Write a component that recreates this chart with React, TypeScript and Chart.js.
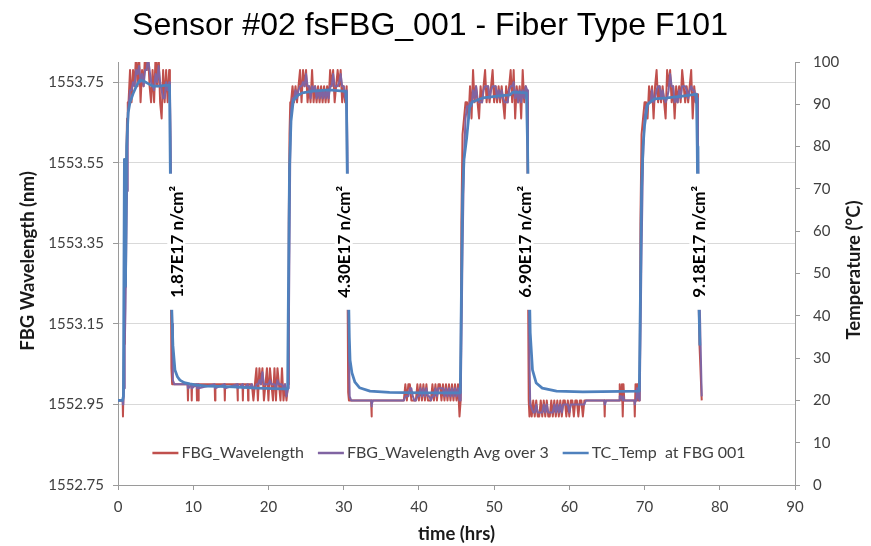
import React, { useEffect, useRef } from "react";
import { Chart, registerables } from "chart.js";

Chart.register(...registerables);

// ---------- texts ----------
const chartTitle = "Sensor #02 fsFBG_001 - Fiber Type F101";
const xAxisTitle = "time (hrs)";
const leftAxisTitle = "FBG Wavelength (nm)";
const rightAxisTitle = "Temperature (°C)";
const seriesNames = ["FBG_Wavelength", "FBG_Wavelength Avg over 3", "TC_Temp  at FBG 001"];
const seriesColors = ["#C0504D", "#8064A2", "#4F81BD"];

// ---------- ticks ----------
const timeTicks = [0, 10, 20, 30, 40, 50, 60, 70, 80, 90];
const wavelengthTicks = [1552.75, 1552.95, 1553.15, 1553.35, 1553.55, 1553.75];
const temperatureTicks = [0, 10, 20, 30, 40, 50, 60, 70, 80, 90, 100];

// ---------- fluence annotations ----------
const fluenceLabels = ["1.87E17 n/cm²", "4.30E17 n/cm²", "6.90E17 n/cm²", "9.18E17 n/cm²"];
const fluenceTimeHrs = [7.75, 30.0, 54.05, 77.15];
const fluenceLabelTemp = 57.5;

// ---------- TC_Temp (°C) ----------
const tempTimeHrs = [
  0, 0.6, 0.72, 0.85, 1.0, 1.15, 1.35, 1.6, 2.0, 2.5, 2.9, 3.4, 3.9, 4.6, 5.5, 6.3, 6.85,
  6.95, 7.05, 7.15, 7.3, 7.57, 7.9, 8.23, 8.8, 9.56, 10.5, 11.8, 13.5, 15.3, 18.5, 21.9, 22.55,
  22.65, 22.8, 23.0, 23.3, 23.8, 24.5, 25.9, 28.1, 29.9, 30.35,
  30.5, 30.6, 30.75, 30.85, 31.1, 31.5, 32.1, 33.5, 36.1, 40.5, 45.5,
  45.65, 45.8, 46.0, 46.35, 46.75, 47.15, 48.5, 50.7, 52.1, 52.5, 54.3,
  54.45, 54.6, 54.8, 55.1, 55.6, 56.4, 58.3, 61.8, 69.3,
  69.45, 69.6, 69.8, 70.0, 70.4, 71.3, 73.0, 75.3, 76.9,
  77.0, 77.1, 77.2, 77.35,
];
const tempValues = [
  20, 20, 21, 77, 47, 80, 88, 90.5, 92.5, 94.5, 95.7, 95.5, 95, 94.3, 94.3, 94.5, 94.5,
  75, 55, 41, 33, 27.2, 25.6, 24.8, 24.2, 23.9, 23.6, 23.4, 23.3, 23.2, 22.9, 22.7, 22.7,
  45, 75, 86, 90.8, 92.0, 92.7, 93.1, 93.4, 93.1, 93,
  70, 50, 35, 29.5, 26.5, 24.3, 23.0, 22.2, 21.9, 21.8, 21.8,
  45, 68, 77, 82, 89.4, 90.6, 91.5, 92, 92.2, 92.9, 92.7,
  80, 55, 36, 27.2, 24.1, 22.9, 22.2, 22.0, 22.2,
  45, 70, 80, 85, 90, 91.3, 91.5, 92, 92.4,
  80, 60, 45, 33,
];

// ---------- FBG wavelength (nm): sparse stretches (transitions, isolated spikes) ----------
const fbgEdgeTime = [
  0, 0.5, 0.62, 0.66, 0.7, 0.8, 0.9, 1.0, 1.1, 1.2, 1.3,
  6.9, 7.0, 7.1, 7.2, 7.3, 7.5,
  9.25, 9.3, 9.35, 9.75, 9.8, 9.85, 10.45, 10.5, 10.55, 10.65, 10.7, 10.75, 12.85, 12.9, 12.95,
  14.15, 14.2, 14.25, 15.85, 15.9, 15.95, 16.55, 16.6, 16.65, 17.25, 17.3, 17.35, 17.8,
  22.6, 22.7, 22.8, 22.9,
  30.5, 30.6, 30.7, 30.8, 31.0, 33.65, 33.7, 33.75, 33.9, 37.8,
  45.55, 45.65, 45.8, 46.0, 46.2,
  54.4, 54.5, 54.6, 54.7, 54.8,
  62.6, 64.65, 64.7, 64.75, 64.9, 66.65, 66.7, 66.9, 67.0, 67.1, 67.2, 67.3,
  68.65, 68.7, 68.8, 68.9, 69.0, 69.1, 69.35, 69.45, 69.6, 69.8, 70.0,
  77.0, 77.1, 77.2, 77.3, 77.6,
];
const fbgEdgeWavelength = [
  1552.96, 1552.96, 1552.96, 1552.92, 1552.96, 1553.10, 1553.24, 1553.24, 1553.55, 1553.66, 1553.70,
  1553.74, 1553.40, 1553.04, 1553.00, 1553.00, 1553.00,
  1553.00, 1552.96, 1553.00, 1553.00, 1552.96, 1553.00, 1553.00, 1552.96, 1553.00, 1553.00, 1552.96, 1553.00, 1553.00, 1552.96, 1553.00,
  1553.00, 1552.96, 1553.00, 1553.00, 1552.96, 1553.00, 1553.00, 1552.96, 1553.00, 1553.00, 1552.96, 1553.00, 1553.00,
  1553.00, 1553.40, 1553.62, 1553.70,
  1553.30, 1552.98, 1552.96, 1552.96, 1552.96, 1552.96, 1552.92, 1552.96, 1552.96, 1552.96,
  1552.96, 1553.40, 1553.62, 1553.66, 1553.70,
  1553.70, 1553.30, 1552.96, 1552.92, 1552.96,
  1552.96, 1552.96, 1552.92, 1552.96, 1552.96, 1552.96, 1553.00, 1552.96, 1553.00, 1552.92, 1553.00, 1552.96,
  1552.96, 1552.92, 1553.00, 1552.96, 1553.00, 1552.96, 1552.96, 1553.40, 1553.62, 1553.66, 1553.70,
  1553.72, 1553.40, 1553.20, 1553.10, 1552.96,
];
const fbgEdgeAvg = [
  1552.96, 1552.96, 1552.96, 1552.95, 1552.95, 1552.99, 1553.10, 1553.19, 1553.34, 1553.48, 1553.64,
  1553.74, 1553.61, 1553.39, 1553.15, 1553.01, 1553.00,
  1553.00, 1552.99, 1552.99, 1553.00, 1552.99, 1552.99, 1553.00, 1552.99, 1552.99, 1553.00, 1552.99, 1552.99, 1553.00, 1552.99, 1552.99,
  1553.00, 1552.99, 1552.99, 1553.00, 1552.99, 1552.99, 1553.00, 1552.99, 1552.99, 1553.00, 1552.99, 1552.99, 1553.00,
  1552.99, 1553.12, 1553.34, 1553.57,
  1553.59, 1553.34, 1553.08, 1552.97, 1552.96, 1552.96, 1552.945, 1552.95, 1552.96, 1552.96,
  1552.96, 1553.09, 1553.33, 1553.56, 1553.66,
  1553.73, 1553.58, 1553.32, 1553.06, 1552.95,
  1552.96, 1552.96, 1552.95, 1552.95, 1552.96, 1552.96, 1552.97, 1552.97, 1552.97, 1552.96, 1552.97, 1552.96,
  1552.96, 1552.95, 1552.96, 1552.96, 1552.99, 1552.97, 1552.96, 1553.10, 1553.33, 1553.56, 1553.66,
  1553.71, 1553.61, 1553.44, 1553.23, 1552.97,
];

// ---------- FBG wavelength (nm): noisy stretches, one sample every 0.2 h from the start time ----------
const noisyStepHrs = 0.2;

const plateau1Start = 1.4;
const plateau1Wavelength = [
  1553.70, 1553.78, 1553.70, 1553.78, 1553.74, 1553.82, 1553.74, 1553.82, 1553.70, 1553.78,
  1553.74, 1553.82, 1553.78, 1553.82, 1553.74, 1553.70, 1553.78, 1553.70, 1553.82, 1553.74,
  1553.82, 1553.70, 1553.66, 1553.78, 1553.70, 1553.78, 1553.70, 1553.78,
];
const plateau1Avg = [
  1553.69, 1553.73, 1553.73, 1553.75, 1553.74, 1553.78, 1553.77, 1553.79, 1553.75, 1553.77,
  1553.74, 1553.78, 1553.78, 1553.81, 1553.78, 1553.75, 1553.74, 1553.73, 1553.77, 1553.75,
  1553.79, 1553.75, 1553.73, 1553.71, 1553.71, 1553.75, 1553.73, 1553.75,
];

const bottom1Start = 18.0;
const bottom1Wavelength = [
  1552.96, 1553.00, 1553.04, 1552.96, 1553.04, 1553.00, 1553.04, 1552.96, 1553.00, 1553.04,
  1552.96, 1553.04, 1553.00, 1552.96, 1553.04, 1552.96, 1553.04, 1553.00, 1552.96, 1553.04,
  1552.96, 1553.00, 1552.96,
];
const bottom1Avg = [
  1552.99, 1552.99, 1553.00, 1553.00, 1553.01, 1553.00, 1553.03, 1553.00, 1553.00, 1553.00,
  1553.00, 1553.01, 1553.00, 1553.00, 1553.00, 1552.99, 1553.01, 1553.00, 1553.00, 1553.00,
  1552.99, 1553.00, 1552.97,
];

const plateau2Start = 23.0;
const plateau2Wavelength = [
  1553.70, 1553.74, 1553.70, 1553.74, 1553.70, 1553.74, 1553.78, 1553.70, 1553.78, 1553.74,
  1553.78, 1553.70, 1553.74, 1553.70, 1553.78, 1553.70, 1553.74, 1553.70, 1553.74, 1553.70,
  1553.74, 1553.70, 1553.74, 1553.70, 1553.74, 1553.70, 1553.78, 1553.74, 1553.78, 1553.70,
  1553.74, 1553.78, 1553.74, 1553.78, 1553.70, 1553.74, 1553.70, 1553.74,
];
const plateau2Avg = [
  1553.68, 1553.71, 1553.71, 1553.73, 1553.71, 1553.73, 1553.74, 1553.74, 1553.75, 1553.74,
  1553.77, 1553.74, 1553.74, 1553.71, 1553.74, 1553.73, 1553.74, 1553.71, 1553.73, 1553.71,
  1553.73, 1553.71, 1553.73, 1553.71, 1553.73, 1553.71, 1553.74, 1553.74, 1553.77, 1553.74,
  1553.74, 1553.74, 1553.75, 1553.77, 1553.74, 1553.74, 1553.71, 1553.73,
];

const bottom2Start = 38.0;
const bottom2Wavelength = [
  1552.96, 1553.00, 1552.96, 1553.00, 1553.00, 1552.96, 1552.96, 1552.96, 1552.96, 1553.00,
  1552.96, 1553.00, 1552.96, 1553.00, 1552.96, 1553.00, 1552.96, 1552.96, 1552.96, 1553.00,
  1552.96, 1553.00, 1552.96, 1553.00, 1553.00, 1552.96, 1553.00, 1552.96, 1553.00, 1552.96,
  1553.00, 1552.96, 1553.00, 1552.96, 1553.00, 1552.96, 1553.00, 1552.92,
];
const bottom2Avg = [
  1552.96, 1552.97, 1552.97, 1552.97, 1552.99, 1552.99, 1552.97, 1552.96, 1552.96, 1552.97,
  1552.97, 1552.99, 1552.97, 1552.99, 1552.97, 1552.99, 1552.97, 1552.97, 1552.96, 1552.97,
  1552.97, 1552.99, 1552.97, 1552.99, 1552.99, 1552.99, 1552.99, 1552.97, 1552.99, 1552.97,
  1552.99, 1552.97, 1552.99, 1552.97, 1552.99, 1552.97, 1552.99, 1552.96,
];

const plateau3Start = 46.4;
const plateau3Wavelength = [
  1553.70, 1553.66, 1553.74, 1553.66, 1553.78, 1553.70, 1553.74, 1553.70, 1553.66, 1553.74,
  1553.70, 1553.74, 1553.78, 1553.70, 1553.74, 1553.70, 1553.74, 1553.78, 1553.70, 1553.74,
  1553.70, 1553.74, 1553.70, 1553.74, 1553.70, 1553.66, 1553.74, 1553.70, 1553.74, 1553.78,
  1553.70, 1553.78, 1553.66, 1553.74, 1553.70, 1553.74, 1553.66, 1553.78, 1553.70, 1553.74,
];
const plateau3Avg = [
  1553.69, 1553.69, 1553.70, 1553.69, 1553.73, 1553.71, 1553.74, 1553.71, 1553.70, 1553.70,
  1553.70, 1553.73, 1553.74, 1553.74, 1553.74, 1553.71, 1553.73, 1553.74, 1553.74, 1553.74,
  1553.71, 1553.73, 1553.71, 1553.73, 1553.71, 1553.70, 1553.70, 1553.70, 1553.73, 1553.74,
  1553.74, 1553.75, 1553.71, 1553.73, 1553.70, 1553.73, 1553.70, 1553.73, 1553.71, 1553.74,
];

const bottom3Start = 55.0;
const bottom3Wavelength = [
  1552.92, 1552.96, 1552.92, 1552.96, 1552.92, 1552.92, 1552.96, 1552.92, 1552.96, 1552.92,
  1552.96, 1552.92, 1552.92, 1552.96, 1552.92, 1552.96, 1552.92, 1552.96, 1552.92, 1552.96,
  1552.92, 1552.96, 1552.96, 1552.92, 1552.96, 1552.92, 1552.96, 1552.96, 1552.92, 1552.96,
  1552.96, 1552.92, 1552.96, 1552.96, 1552.92, 1552.96, 1552.96,
];
const bottom3Avg = [
  1552.94, 1552.93, 1552.93, 1552.95, 1552.93, 1552.93, 1552.93, 1552.93, 1552.95, 1552.93,
  1552.95, 1552.93, 1552.93, 1552.93, 1552.93, 1552.95, 1552.93, 1552.95, 1552.93, 1552.95,
  1552.93, 1552.95, 1552.95, 1552.95, 1552.95, 1552.93, 1552.95, 1552.95, 1552.95, 1552.95,
  1552.95, 1552.95, 1552.95, 1552.95, 1552.95, 1552.95, 1552.96,
];

const plateau4Start = 70.2;
const plateau4Wavelength = [
  1553.70, 1553.66, 1553.74, 1553.70, 1553.74, 1553.66, 1553.74, 1553.78, 1553.70, 1553.74,
  1553.70, 1553.74, 1553.70, 1553.66, 1553.78, 1553.74, 1553.78, 1553.70, 1553.74, 1553.66,
  1553.74, 1553.70, 1553.74, 1553.70, 1553.78, 1553.74, 1553.70, 1553.74, 1553.70, 1553.74,
  1553.78, 1553.66, 1553.74, 1553.70,
];
const plateau4Avg = [
  1553.69, 1553.69, 1553.70, 1553.70, 1553.73, 1553.70, 1553.71, 1553.73, 1553.74, 1553.74,
  1553.71, 1553.73, 1553.71, 1553.70, 1553.71, 1553.73, 1553.77, 1553.74, 1553.74, 1553.70,
  1553.71, 1553.70, 1553.73, 1553.71, 1553.74, 1553.74, 1553.74, 1553.73, 1553.71, 1553.73,
  1553.74, 1553.73, 1553.73, 1553.70,
];

const noisyStarts = [plateau1Start, bottom1Start, plateau2Start, bottom2Start, plateau3Start, bottom3Start, plateau4Start];
const noisyWavelength = [plateau1Wavelength, bottom1Wavelength, plateau2Wavelength, bottom2Wavelength, plateau3Wavelength, bottom3Wavelength, plateau4Wavelength];
const noisyAvg = [plateau1Avg, bottom1Avg, plateau2Avg, bottom2Avg, plateau3Avg, bottom3Avg, plateau4Avg];

type Pt = { x: number; y: number };

function buildFbg(): { wl: Pt[]; avg: Pt[] } {
  const wl: Pt[] = [];
  const avg: Pt[] = [];
  const n = Math.min(fbgEdgeTime.length, fbgEdgeWavelength.length, fbgEdgeAvg.length);
  for (let i = 0; i < n; i++) {
    wl.push({ x: fbgEdgeTime[i], y: fbgEdgeWavelength[i] });
    avg.push({ x: fbgEdgeTime[i], y: fbgEdgeAvg[i] });
  }
  noisyStarts.forEach((start, k) => {
    const m = Math.min(noisyWavelength[k].length, noisyAvg[k].length);
    for (let i = 0; i < m; i++) {
      const t = Math.round((start + i * noisyStepHrs) * 100) / 100;
      wl.push({ x: t, y: noisyWavelength[k][i] });
      avg.push({ x: t, y: noisyAvg[k][i] });
    }
  });
  wl.sort((a, b) => a.x - b.x);
  avg.sort((a, b) => a.x - b.x);
  return { wl, avg };
}

function buildTemp(): Pt[] {
  const n = Math.min(tempTimeHrs.length, tempValues.length);
  const pts: Pt[] = [];
  for (let i = 0; i < n; i++) pts.push({ x: tempTimeHrs[i], y: tempValues[i] });
  return pts;
}

const AXIS_COLOR = "#9a9a9a";
const GRID_COLOR = "#d9d9d9";
const LABEL_COLOR = "#404040";
const TICK_FONT = { family: "Lato", size: 15 };

const decorPlugin = {
  id: "decor",
  afterDatasetsDraw(chart: any) {
    const { ctx, scales } = chart;
    ctx.save();
    ctx.font = "bold 17px Lato";
    fluenceLabels.forEach((text, i) => {
      const cx = scales.x.getPixelForValue(fluenceTimeHrs[i]);
      const cy = scales.yTemp.getPixelForValue(fluenceLabelTemp);
      const w = ctx.measureText(text).width;
      ctx.save();
      ctx.translate(cx, cy);
      ctx.rotate(-Math.PI / 2);
      ctx.fillStyle = "#ffffff";
      ctx.fillRect(-w / 2 - 12, -9, w + 24, 18);
      ctx.fillStyle = "#000000";
      ctx.textAlign = "center";
      ctx.textBaseline = "middle";
      ctx.fillText(text, 0, 1);
      ctx.restore();
    });
    ctx.restore();
  },
  afterDraw(chart: any) {
    const { ctx, chartArea } = chart;
    ctx.save();
    // title
    ctx.fillStyle = "#000000";
    ctx.font = "32px 'Liberation Sans', Arial, sans-serif";
    ctx.textAlign = "center";
    ctx.textBaseline = "alphabetic";
    ctx.fillText(chartTitle, 430, 35);

    // axis titles
    ctx.fillStyle = "#1a1a1a";
    ctx.font = "bold 18.5px Lato";
    ctx.textBaseline = "middle";
    ctx.fillText(xAxisTitle, (chartArea.left + chartArea.right) / 2, 534);

    ctx.save();
    ctx.translate(28, 261);
    ctx.rotate(-Math.PI / 2);
    ctx.fillText(leftAxisTitle, 0, 0);
    ctx.restore();

    ctx.save();
    ctx.translate(854, 270);
    ctx.rotate(-Math.PI / 2);
    ctx.fillText(rightAxisTitle, 0, 0);
    ctx.restore();

    // legend (inside plot area)
    ctx.font = "16px Lato";
    ctx.textAlign = "left";
    const keyLen = 26;
    const keyGap = 3;
    const itemGap = 14;
    const widths = seriesNames.map((s) => ctx.measureText(s).width);
    const total = widths.reduce((a, w) => a + keyLen + keyGap + w, 0) + itemGap * (seriesNames.length - 1);
    let x = 449 - total / 2;
    const y = 453;
    seriesNames.forEach((name, i) => {
      ctx.strokeStyle = seriesColors[i];
      ctx.lineWidth = 2.5;
      ctx.beginPath();
      ctx.moveTo(x, y);
      ctx.lineTo(x + keyLen, y);
      ctx.stroke();
      x += keyLen + keyGap;
      ctx.fillStyle = LABEL_COLOR;
      ctx.fillText(name, x, y);
      x += widths[i] + itemGap;
    });
    ctx.restore();
  },
};

export default function App() {
  const canvasRef = useRef<HTMLCanvasElement>(null);

  useEffect(() => {
    const canvas = canvasRef.current;
    if (!canvas) return;
    const { wl, avg } = buildFbg();
    const temp = buildTemp();

    const chart = new Chart(canvas, {
      type: "line",
      data: {
        datasets: [
          {
            label: seriesNames[0],
            data: wl,
            borderColor: seriesColors[0],
            backgroundColor: seriesColors[0],
            borderWidth: 2,
            pointRadius: 0,
            tension: 0,
            borderJoinStyle: "round",
            yAxisID: "yWl",
            order: 3,
          },
          {
            label: seriesNames[1],
            data: avg,
            borderColor: seriesColors[1],
            backgroundColor: seriesColors[1],
            borderWidth: 2,
            pointRadius: 0,
            tension: 0,
            borderJoinStyle: "round",
            yAxisID: "yWl",
            order: 2,
          },
          {
            label: seriesNames[2],
            data: temp,
            borderColor: seriesColors[2],
            backgroundColor: seriesColors[2],
            borderWidth: 2.75,
            pointRadius: 0,
            tension: 0,
            borderJoinStyle: "round",
            yAxisID: "yTemp",
            order: 1,
          },
        ],
      },
      options: {
        responsive: false,
        animation: false,
        events: [],
        layout: { padding: { top: 62, left: 0, right: 0, bottom: 0 } },
        plugins: {
          legend: { display: false },
          title: { display: false },
          tooltip: { enabled: false },
        },
        scales: {
          x: {
            type: "linear",
            position: "bottom",
            min: 0,
            max: 90,
            afterBuildTicks: (s: any) => {
              s.ticks = timeTicks.map((v) => ({ value: v }));
            },
            afterFit: (s: any) => {
              s.height = 61;
            },
            grid: { drawOnChartArea: false, drawTicks: true, tickLength: 5, tickColor: AXIS_COLOR },
            border: { color: AXIS_COLOR, width: 1 },
            ticks: { font: TICK_FONT, color: LABEL_COLOR, padding: 8, maxRotation: 0, autoSkip: false },
          },
          yWl: {
            type: "linear",
            position: "left",
            min: 1552.75,
            max: 1553.8,
            afterBuildTicks: (s: any) => {
              s.ticks = wavelengthTicks.map((v) => ({ value: v }));
            },
            afterFit: (s: any) => {
              s.width = 118;
            },
            grid: { color: GRID_COLOR, lineWidth: 1, drawTicks: true, tickLength: 5, tickColor: AXIS_COLOR },
            border: { color: AXIS_COLOR, width: 1 },
            ticks: {
              font: TICK_FONT,
              color: LABEL_COLOR,
              padding: 9,
              autoSkip: false,
              callback: (v: any) => Number(v).toFixed(2),
            },
          },
          yTemp: {
            type: "linear",
            position: "right",
            min: 0,
            max: 100,
            afterBuildTicks: (s: any) => {
              s.ticks = temperatureTicks.map((v) => ({ value: v }));
            },
            afterFit: (s: any) => {
              s.width = 76;
            },
            grid: { drawOnChartArea: false, drawTicks: true, tickLength: 5, tickColor: AXIS_COLOR },
            border: { color: AXIS_COLOR, width: 1 },
            ticks: {
              font: TICK_FONT,
              color: LABEL_COLOR,
              padding: 13,
              autoSkip: false,
              callback: (v: any) => String(v),
            },
          },
        },
      },
      plugins: [decorPlugin],
    } as any);

    return () => chart.destroy();
  }, []);

  return (
    <div style={{ position: "absolute", left: 0, top: 0, width: 871, height: 546, background: "#ffffff" }}>
      <canvas ref={canvasRef} width={871} height={546} style={{ display: "block", width: 871, height: 546 }} />
    </div>
  );
}
